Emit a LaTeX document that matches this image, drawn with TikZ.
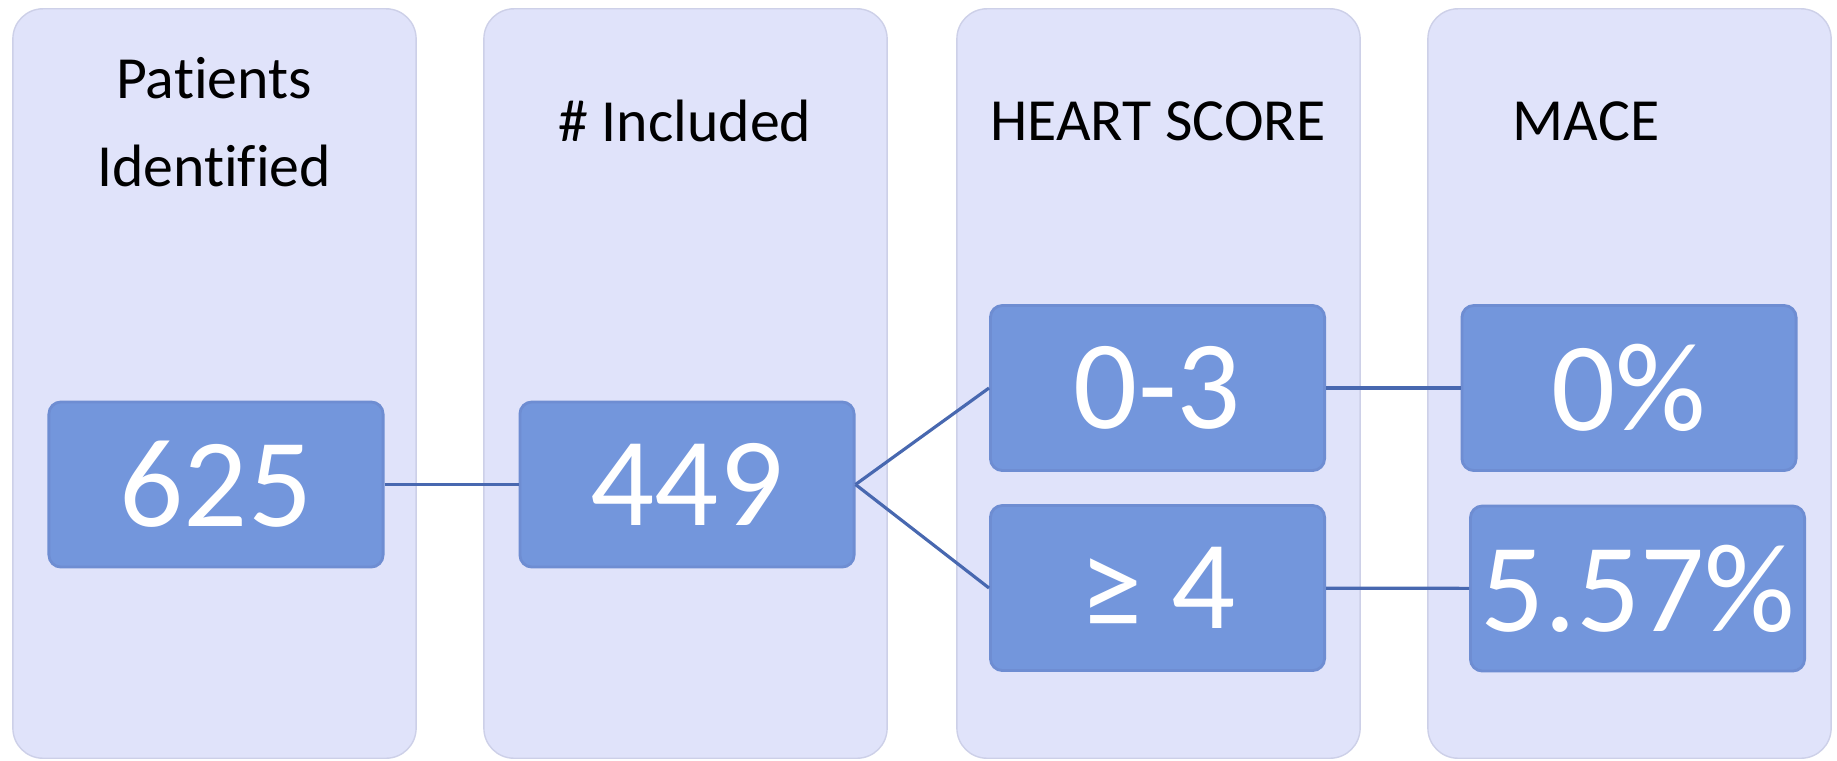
\documentclass[tikz,border=0pt]{standalone}
\usepackage{fontspec}
\setmainfont{Carlito}[Ligatures={NoCommon,NoRequired,NoContextual}]
\usepackage{tikz}
\usetikzlibrary{calc}
\definecolor{colfill}{HTML}{E0E3FA}
\definecolor{coledge}{HTML}{CDD0E8}
\definecolor{boxfill}{HTML}{7396DC}
\definecolor{boxedge}{HTML}{6E8DD2}
\definecolor{linkcol}{HTML}{4868B0}
\begin{document}
\begin{tikzpicture}[x=0.01cm,y=-0.01cm,
  column/.style={draw=coledge,fill=colfill,rounded corners=0.3cm,minimum width=4.03cm,minimum height=7.49cm,inner sep=0pt},
  title/.style={align=center,font=\fontsize{17}{25}\selectfont},
  numbox/.style={draw=boxedge,line width=0.8pt,fill=boxfill,rounded corners=0.12cm,minimum width=3.34cm,minimum height=1.65cm,inner sep=0pt,text=white,font=\fontsize{36}{40}\selectfont},
  link/.style={draw=linkcol,line width=0.9pt}]
\useasboundingbox (0,0) rectangle (1837,760);
\node[column] (col1) at (214.5,383.5) {};
\node[column] (col2) at (685.5,383.5) {};
\node[column] (col3) at (1158.5,383.5) {};
\node[column] (col4) at (1629.5,383.5) {};
\node[title] (t1) at (214,122) {Patients\\Identified};
\node[title] (t2) at (685,121) {\# Included};
\node[title] (t3) at (1158,121) {HEART SCORE};
\node[title] (t4) at (1586,121) {MACE};
\node[numbox] (n625) at (216,484.5) {625};
\node[numbox] (n449) at (687,484.5) {449};
\node[numbox] (low) at (1157.5,388) {0-3};
\node[numbox] (high) at (1157.5,588) {≥ 4};
\node[numbox] (lowmace) at (1629,388) {0\%};
\node[numbox] (highmace) at (1637.5,588.5) {5.57\%};
\draw[link] (n625) -- (n449);
\draw[link] (n449.east) -- (low.west);
\draw[link] (n449.east) -- (high.west);
\draw[link] (low) -- (lowmace);
\draw[link] (high) -- (highmace);
\end{tikzpicture}
\end{document}
